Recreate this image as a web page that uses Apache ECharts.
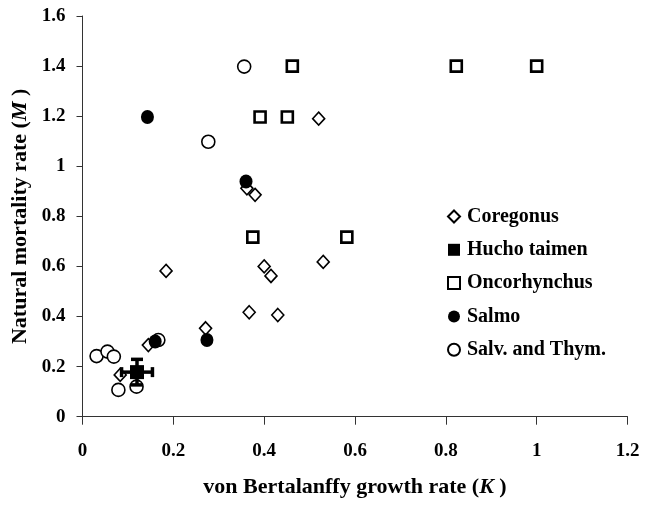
<!DOCTYPE html>
<html>
<head>
<meta charset="utf-8">
<script src="https://cdn.jsdelivr.net/npm/echarts@6/dist/echarts.min.js"></script>
<style>html,body{margin:0;padding:0;background:#fff}#c{width:645px;height:505px}</style>
</head>
<body>
<div id="c"></div>
<script>
// ---- data ----
var coregonusK = [0.52, 0.38, 0.362, 0.40, 0.415, 0.53, 0.184, 0.367, 0.43, 0.271, 0.145, 0.083];
var coregonusM = [1.19, 0.886, 0.912, 0.60, 0.562, 0.618, 0.582, 0.417, 0.406, 0.353, 0.286, 0.167];

var huchoK = [0.12];
var huchoM = [0.178];
var huchoKerr = [0.034];
var huchoMerr = [0.051];

var oncoK = [0.462, 0.823, 1.0, 0.391, 0.451, 0.375, 0.582];
var oncoM = [1.40, 1.40, 1.40, 1.197, 1.197, 0.717, 0.717];

var salmoK = [0.143, 0.36, 0.274, 0.16];
var salmoM = [1.197, 0.939, 0.306, 0.30];

var salvK = [0.356, 0.277, 0.031, 0.055, 0.069, 0.079, 0.119, 0.167];
var salvM = [1.398, 1.098, 0.242, 0.26, 0.24, 0.107, 0.12, 0.306];

var seriesNames = ['Coregonus', 'Hucho taimen', 'Oncorhynchus', 'Salmo', 'Salv. and Thym.'];
var xTicks = [0, 0.2, 0.4, 0.6, 0.8, 1, 1.2];
var yTicks = [0, 0.2, 0.4, 0.6, 0.8, 1, 1.2, 1.4, 1.6];

function pairs(a, b) { return a.map(function (v, i) { return [v, b[i]]; }); }

var FONT = '"Liberation Serif", "Times New Roman", serif';
var chart = echarts.init(document.getElementById('c'), null, { renderer: 'canvas' });

var option = {
  backgroundColor: '#ffffff',
  animation: false,
  grid: { left: 82.5, right: 17.5, top: 16, bottom: 88.3, containLabel: false },
  legend: {
    orient: 'vertical',
    left: 447,
    top: 206.5,
    padding: 0,
    itemWidth: 12,
    itemHeight: 12,
    itemGap: 13.3,
    data: seriesNames,
    textStyle: { fontFamily: FONT, fontWeight: 'bold', fontSize: 20, color: '#000', lineHeight: 20, padding: [0, 0, 0, 2] }
  },
  xAxis: {
    type: 'value',
    min: 0, max: 1.2, interval: 0.2,
    name: '{a|von Bertalanffy growth rate (}{b|K}{a| )}',
    nameLocation: 'middle',
    nameGap: 60,
    nameTextStyle: {
      rich: {
        a: { fontFamily: FONT, fontWeight: 'bold', fontSize: 22, color: '#000' },
        b: { fontFamily: FONT, fontWeight: 'bold', fontStyle: 'italic', fontSize: 22, color: '#000' }
      }
    },
    splitLine: { show: false },
    axisLine: { show: true, onZero: false, lineStyle: { color: '#333', width: 1 } },
    axisTick: { show: true, inside: false, length: 8, lineStyle: { color: '#333' } },
    axisLabel: {
      margin: 25,
      fontFamily: FONT, fontWeight: 'bold', fontSize: 19, color: '#000',
      formatter: function (v) { return String(Math.round(v * 10) / 10); }
    }
  },
  yAxis: {
    type: 'value',
    min: 0, max: 1.6, interval: 0.2,
    name: '{a|Natural mortality rate (}{b|M}{a| )}',
    nameLocation: 'middle',
    nameGap: 50,
    nameRotate: 90,
    nameTextStyle: {
      rich: {
        a: { fontFamily: FONT, fontWeight: 'bold', fontSize: 22, color: '#000' },
        b: { fontFamily: FONT, fontWeight: 'bold', fontStyle: 'italic', fontSize: 22, color: '#000' }
      }
    },
    splitLine: { show: false },
    axisLine: { show: true, onZero: false, lineStyle: { color: '#333', width: 1 } },
    axisTick: { show: true, inside: false, length: 6, lineStyle: { color: '#333' } },
    axisLabel: {
      margin: 17,
      fontFamily: FONT, fontWeight: 'bold', fontSize: 19, color: '#000',
      formatter: function (v) { return String(Math.round(v * 10) / 10); }
    }
  },
  series: [
    {
      name: 'Salv. and Thym.', type: 'scatter', z: 2,
      symbol: 'circle', symbolSize: 13,
      itemStyle: { color: '#fff', borderColor: '#000', borderWidth: 1.6, opacity: 1 },
      data: pairs(salvK, salvM)
    },
    {
      name: 'Coregonus', type: 'scatter', z: 3,
      symbol: 'diamond', symbolSize: [12, 13],
      itemStyle: { color: '#fff', borderColor: '#000', borderWidth: 1.6, opacity: 1 },
      data: pairs(coregonusK, coregonusM)
    },
    {
      name: 'Oncorhynchus', type: 'scatter', z: 4,
      symbol: 'rect', symbolSize: 11,
      itemStyle: { color: '#fff', borderColor: '#000', borderWidth: 2.6, opacity: 1 },
      data: pairs(oncoK, oncoM)
    },
    {
      name: 'Salmo', type: 'scatter', z: 5,
      symbol: 'circle', symbolSize: [13, 14],
      itemStyle: { color: '#000', borderColor: '#000', borderWidth: 0, opacity: 1 },
      data: pairs(salmoK, salmoM)
    },
    {
      name: 'hucho-errors', type: 'custom', z: 6, silent: true,
      encode: { x: 0, y: 1 },
      data: huchoK.map(function (k, i) { return [k, huchoM[i], huchoKerr[i], huchoMerr[i]]; }),
      renderItem: function (params, api) {
        var x = api.value(0), y = api.value(1), ex = api.value(2), ey = api.value(3);
        var l = api.coord([x - ex, y]), r = api.coord([x + ex, y]);
        var t = api.coord([x, y + ey]), b = api.coord([x, y - ey]);
        var st = { stroke: '#000', lineWidth: 3.5 };
        var capH = 5, capV = 6;
        return {
          type: 'group',
          children: [
            { type: 'line', shape: { x1: l[0], y1: l[1], x2: r[0], y2: r[1] }, style: st },
            { type: 'line', shape: { x1: l[0], y1: l[1] - capH, x2: l[0], y2: l[1] + capH }, style: st },
            { type: 'line', shape: { x1: r[0], y1: r[1] - capH, x2: r[0], y2: r[1] + capH }, style: st },
            { type: 'line', shape: { x1: t[0], y1: t[1], x2: b[0], y2: b[1] }, style: st },
            { type: 'line', shape: { x1: t[0] - capV, y1: t[1], x2: t[0] + capV, y2: t[1] }, style: st },
            { type: 'line', shape: { x1: b[0] - capV, y1: b[1], x2: b[0] + capV, y2: b[1] }, style: st }
          ]
        };
      }
    },
    {
      name: 'Hucho taimen', type: 'scatter', z: 7,
      symbol: 'rect', symbolSize: 14,
      itemStyle: { color: '#000', borderColor: '#000', borderWidth: 0, opacity: 1 },
      data: pairs(huchoK, huchoM)
    }
  ]
};
chart.setOption(option);
</script>
</body>
</html>
